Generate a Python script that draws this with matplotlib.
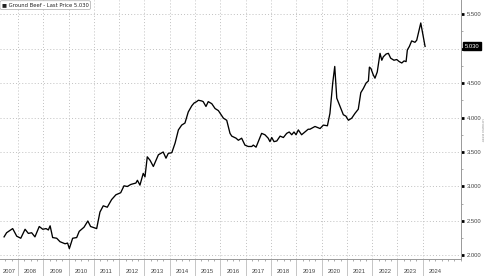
import matplotlib.pyplot as plt
from matplotlib.ticker import FixedLocator, MultipleLocator, NullFormatter

plt.rcParams['font.family'] = ['Liberation Sans', 'DejaVu Sans']

# monthly-ish readings, x as decimal year
dates = [2007.45, 2007.55, 2007.79, 2007.95, 2008.11, 2008.28, 2008.41, 2008.54, 2008.67,
         2008.84, 2008.98, 2009.11, 2009.20, 2009.27, 2009.37, 2009.53, 2009.66, 2009.86,
         2009.96, 2010.03, 2010.16, 2010.32, 2010.42, 2010.61, 2010.76, 2010.87, 2011.11,
         2011.24, 2011.37, 2011.53, 2011.70, 2011.87, 2012.06, 2012.19, 2012.32, 2012.46,
         2012.66, 2012.72, 2012.82, 2012.95, 2013.02, 2013.11, 2013.22, 2013.35, 2013.55,
         2013.74, 2013.85, 2013.94, 2014.08, 2014.21, 2014.34, 2014.47, 2014.60, 2014.73,
         2014.87, 2014.96, 2015.06, 2015.13, 2015.26, 2015.32, 2015.43, 2015.52, 2015.66,
         2015.79, 2015.92, 2016.12, 2016.25, 2016.38, 2016.45, 2016.62, 2016.71, 2016.84,
         2016.97, 2017.10, 2017.24, 2017.30, 2017.41, 2017.63, 2017.76, 2017.89, 2017.96,
         2018.03, 2018.12, 2018.23, 2018.36, 2018.49, 2018.62, 2018.72, 2018.82, 2018.91,
         2018.99, 2019.08, 2019.21, 2019.34, 2019.47, 2019.54, 2019.74, 2019.94, 2020.07,
         2020.23, 2020.33, 2020.44, 2020.52, 2020.60, 2020.73, 2020.86, 2020.96, 2021.06,
         2021.19, 2021.32, 2021.45, 2021.55, 2021.65, 2021.76, 2021.85, 2021.89, 2021.95,
         2022.04, 2022.11, 2022.20, 2022.31, 2022.38, 2022.44, 2022.55, 2022.64, 2022.73,
         2022.86, 2022.97, 2023.07, 2023.17, 2023.26, 2023.34, 2023.39, 2023.47, 2023.56,
         2023.69, 2023.76, 2023.92, 2024.09]
prices = [2.27, 2.33, 2.39, 2.28, 2.25, 2.38, 2.32, 2.33, 2.27,
          2.42, 2.38, 2.39, 2.37, 2.43, 2.26, 2.25, 2.20, 2.17,
          2.18, 2.10, 2.25, 2.26, 2.35, 2.41, 2.50, 2.42, 2.39,
          2.63, 2.72, 2.70, 2.81, 2.88, 2.91, 3.01, 3.00, 3.03,
          3.05, 3.09, 3.02, 3.19, 3.14, 3.43, 3.38, 3.29, 3.46,
          3.50, 3.41, 3.48, 3.49, 3.63, 3.82, 3.89, 3.92, 4.08,
          4.17, 4.21, 4.23, 4.25, 4.24, 4.23, 4.16, 4.23, 4.20,
          4.13, 4.10, 3.99, 3.96, 3.77, 3.73, 3.70, 3.67, 3.70,
          3.60, 3.58, 3.58, 3.60, 3.57, 3.77, 3.75, 3.70, 3.65,
          3.71, 3.65, 3.66, 3.73, 3.71, 3.77, 3.79, 3.75, 3.79,
          3.75, 3.82, 3.75, 3.79, 3.83, 3.83, 3.87, 3.84, 3.89,
          3.88, 4.06, 4.50, 4.74, 4.28, 4.16, 4.04, 4.02, 3.96,
          3.99, 4.06, 4.12, 4.36, 4.42, 4.50, 4.53, 4.73, 4.71,
          4.62, 4.57, 4.66, 4.93, 4.83, 4.88, 4.92, 4.93, 4.86,
          4.83, 4.84, 4.81, 4.79, 4.82, 4.81, 4.98, 5.03, 5.11,
          5.09, 5.12, 5.37, 5.03]
last_price = 5.030
years = list(range(2007, 2025))
yticks = [2.0, 2.5, 3.0, 3.5, 4.0, 4.5, 5.0, 5.5]

fig = plt.figure(figsize=(4.85, 2.76), dpi=100)
ax = fig.add_axes([0, 0.0598, 0.9505, 0.9402])
ax.plot(dates, prices, color='black', linewidth=0.95)

x0, x1 = 2007.289, 2025.51
ax.set_xlim(x0, x1)
ax.set_ylim(1.942, 5.703)

# y axis on the right; 5.000 label hidden behind the last-price tag
ax.yaxis.tick_right()
ax.set_yticks(yticks)
ax.set_yticklabels([f"{v:.3f}" if v != 5.0 else "" for v in yticks])
ax.yaxis.set_minor_locator(MultipleLocator(0.25))
ax.tick_params(axis='y', which='major', length=2, width=2, color='black',
               labelsize=4.2, labelcolor='#444444', pad=2)
ax.tick_params(axis='y', which='minor', length=1.5, width=0.5, color='#888888')

# x axis: year separators as long ticks, quarters as minor ticks
ax.xaxis.set_major_locator(FixedLocator(years[1:]))
ax.xaxis.set_major_formatter(NullFormatter())
ax.xaxis.set_minor_locator(MultipleLocator(0.25))
ax.tick_params(axis='x', which='major', length=12, width=0.6, color='#bbbbbb')
ax.tick_params(axis='x', which='minor', length=1.5, width=0.5, color='#888888')
for yr in years:
    lo, hi = max(yr, x0), min(yr + 1, x1)
    ax.annotate(str(yr), xy=((lo + hi) / 2, 0), xycoords=('data', 'axes fraction'),
                xytext=(0, -9), textcoords='offset points', ha='center', va='center',
                fontsize=4.2, color='#444444', annotation_clip=False)

ax.grid(True, which='major', linestyle=(0, (1, 2.2)), linewidth=0.7, color='#c0c0c0')

for s in ['left', 'top']:
    ax.spines[s].set_visible(False)
for s in ['right', 'bottom']:
    ax.spines[s].set_color('#999999')
    ax.spines[s].set_linewidth(0.7)

# last price tag
ax.annotate(f"{last_price:.3f}", xy=(1, last_price), xycoords=('axes fraction', 'data'),
            xytext=(2.5, 0), textcoords='offset points', ha='left', va='center',
            fontsize=4.2, color='white', annotation_clip=False,
            bbox=dict(boxstyle='square,pad=0.25', facecolor='black', edgecolor='black'))

# legend box
ax.text(0.004, 0.99, "\u25a0 Ground Beef - Last Price 5.030", transform=ax.transAxes,
        ha='left', va='top', fontsize=3.8, color='#222222',
        family=['DejaVu Sans'],
        bbox=dict(boxstyle='round,pad=0.35,rounding_size=0.3', facecolor='white',
                  edgecolor='#aaaaaa', linewidth=0.5))

fig.text(0.993, 0.53, "Ground Beef", rotation=270, fontsize=3, color='#999999',
         ha='center', va='center')

fig.savefig('out.png', dpi=100)
